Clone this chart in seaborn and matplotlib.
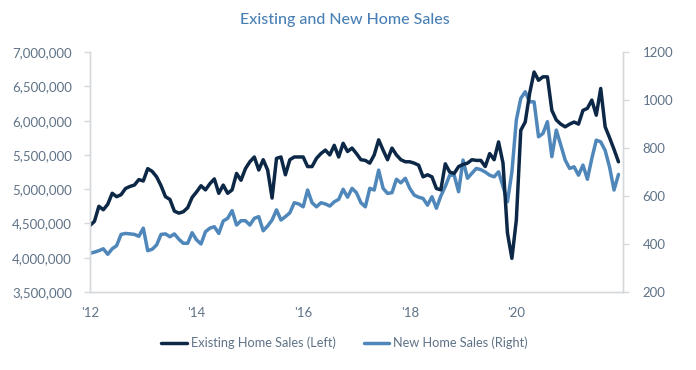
import numpy as np
import pandas as pd
import seaborn as sns
import matplotlib.pyplot as plt
from matplotlib.ticker import FuncFormatter

# monthly index, ticks every two years
months = np.arange(120)
tick_pos = [0, 24, 48, 72, 96, 120]
tick_labels = ["'12", "'14", "'16", "'18", "'20", ""]

# existing home sales, millions (left axis)
existing_m = [
    4.47, 4.53, 4.75, 4.70, 4.78, 4.94, 4.89, 4.92, 5.01, 5.04,
    5.06, 5.14, 5.12, 5.30, 5.26, 5.18, 5.05, 4.89, 4.85, 4.68,
    4.65, 4.67, 4.73, 4.88, 4.96, 5.05, 4.99, 5.08, 5.15, 4.94,
    5.06, 4.94, 4.99, 5.23, 5.13, 5.30, 5.40, 5.47, 5.28, 5.43,
    5.28, 4.87, 5.45, 5.47, 5.21, 5.43, 5.47, 5.47, 5.47, 5.33,
    5.33, 5.45, 5.52, 5.57, 5.50, 5.64, 5.47, 5.67, 5.55, 5.60,
    5.52, 5.43, 5.42, 5.38, 5.50, 5.72, 5.57, 5.43, 5.60, 5.50,
    5.43, 5.40, 5.40, 5.38, 5.35, 5.18, 5.21, 5.18, 5.01, 4.99,
    5.37, 5.25, 5.23, 5.33, 5.36, 5.38, 5.43, 5.42, 5.42, 5.33,
    5.52, 5.43, 5.69, 5.38, 4.36, 3.99, 4.55, 5.86, 5.98, 6.40,
    6.71, 6.59, 6.64, 6.64, 6.15, 6.01, 5.95, 5.91, 5.95, 5.98,
    5.95, 6.15, 6.18, 6.30, 6.08, 6.47, 5.91, 5.75, 5.58, 5.40,
]
existing = [v * 1e6 for v in existing_m]

# new home sales, thousands (right axis)
new = [
    361, 366, 372, 380, 357, 380, 393, 440, 444, 442,
    440, 432, 466, 372, 378, 396, 440, 442, 430, 442,
    420, 403, 403, 447, 417, 400, 451, 466, 472, 444,
    496, 507, 539, 479, 497, 497, 479, 507, 514, 455,
    475, 500, 542, 500, 514, 530, 572, 567, 555, 625,
    572, 555, 572, 567, 558, 576, 586, 628, 595, 632,
    614, 572, 555, 632, 625, 708, 632, 611, 614, 670,
    655, 674, 632, 604, 595, 590, 562, 597, 549, 600,
    640, 687, 687, 618, 750, 674, 695, 715, 710, 700,
    687, 680, 701, 640, 576, 700, 917, 1007, 1035, 993,
    993, 847, 861, 910, 764, 875, 813, 750, 715, 722,
    687, 729, 670, 757, 833, 826, 790, 720, 625, 690,
]

dark = "#0c2846"
light = "#4f87ba"
grey_txt = "#5f7286"
spine_c = "#d6d9dc"

sns.set_style("white")
plt.rcParams["font.family"] = ["Lato", "DejaVu Sans"]

fig = plt.figure(figsize=(6.96, 3.70), dpi=100)
ax = fig.add_axes([0.1293, 0.211, 0.7657, 0.648])

sns.lineplot(x=months, y=existing, ax=ax, color=dark, linewidth=2.5,
             label="Existing Home Sales (Left)")
ax2 = ax.twinx()
sns.lineplot(x=months, y=new, ax=ax2, color=light, linewidth=2.5,
             label="New Home Sales (Right)")
ax.set_zorder(ax2.get_zorder() + 1)
ax.patch.set_visible(False)

ax.set_xlim(0, 120)
ax.set_ylim(3.5e6, 7e6)
ax2.set_ylim(200, 1200)
ax.set_yticks(np.arange(3.5e6, 7.01e6, 5e5))
ax2.set_yticks(np.arange(200, 1201, 200))
ax.yaxis.set_major_formatter(FuncFormatter(lambda v, p: f"{v:,.0f}"))
ax.set_xticks(tick_pos)
ax.set_xticklabels(tick_labels)

for a in (ax, ax2):
    a.set_xlabel("")
    a.set_ylabel("")
    for s in a.spines.values():
        s.set_color(spine_c)
        s.set_linewidth(1)
    a.spines["top"].set_visible(False)
    a.tick_params(colors=grey_txt, labelsize=9.5, length=4, width=1)
    a.tick_params(axis="both", color=spine_c)
    if a.get_legend():
        a.get_legend().remove()
ax.tick_params(axis="x", pad=7)
ax.tick_params(axis="y", pad=9)
ax2.tick_params(axis="y", pad=10)

h1, l1 = ax.get_legend_handles_labels()
h2, l2 = ax2.get_legend_handles_labels()
fig.legend(h1 + h2, l1 + l2, loc="center", bbox_to_anchor=(0.495, 0.073),
           ncol=2, frameon=False, fontsize=9.2, handlelength=2.0,
           columnspacing=2.2, handletextpad=0.3, labelcolor=grey_txt)

fig.suptitle("Existing and New Home Sales", x=0.495, y=0.965,
             fontsize=11.5, color="#4a80b5", fontweight="medium")

fig.savefig("out.png", dpi=100)
